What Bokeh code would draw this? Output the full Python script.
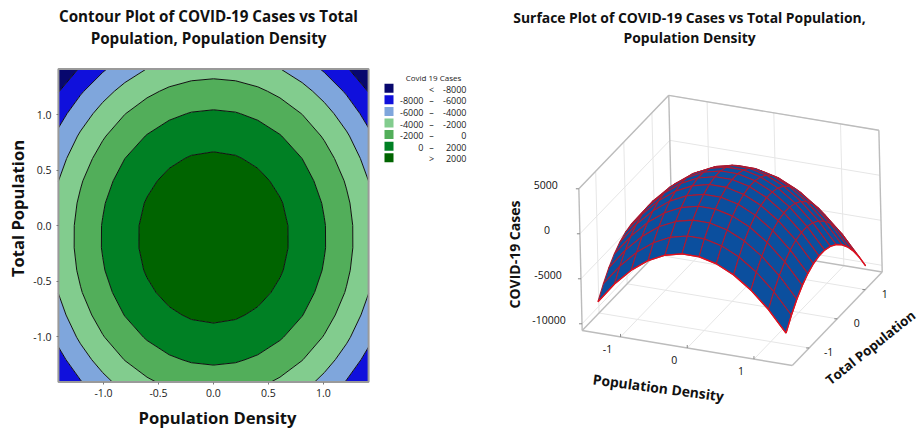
from bokeh.plotting import figure
from bokeh.layouts import row
from bokeh.models import Label, Range1d, FixedTicker
from bokeh.core.properties import value
from bokeh.embed import file_html
from bokeh.resources import INLINE

# ---- data ----
grid_x = [-1.41, -1.209, -1.007, -0.806, -0.604, -0.403, -0.201, 0.0, 0.201, 0.403, 0.604, 0.806, 1.007, 1.209, 1.41]
grid_y = [-1.41, -1.209, -1.007, -0.806, -0.604, -0.403, -0.201, 0.0, 0.201, 0.403, 0.604, 0.806, 1.007, 1.209, 1.41]
cases = [
 [-7967,-6121,-4559,-3281,-2287,-1577,-1151,-1009,-1151,-1577,-2287,-3281,-4559,-6121,-7967],
 [-6635,-4789,-3227,-1949,-955,-245,181,323,181,-245,-955,-1949,-3227,-4789,-6635],
 [-5521,-3675,-2113,-835,159,869,1295,1437,1295,869,159,-835,-2113,-3675,-5521],
 [-4636,-2790,-1228,50,1044,1754,2180,2322,2180,1754,1044,50,-1228,-2790,-4636],
 [-3970,-2124,-562,716,1710,2420,2846,2988,2846,2420,1710,716,-562,-2124,-3970],
 [-3532,-1686,-124,1154,2148,2858,3284,3426,3284,2858,2148,1154,-124,-1686,-3532],
 [-3316,-1470,92,1370,2364,3074,3500,3642,3500,3074,2364,1370,92,-1470,-3316],
 [-3324,-1478,84,1362,2356,3066,3492,3634,3492,3066,2356,1362,84,-1478,-3324],
 [-3555,-1709,-147,1131,2125,2835,3261,3403,3261,2835,2125,1131,-147,-1709,-3555],
 [-4012,-2166,-604,674,1668,2378,2804,2946,2804,2378,1668,674,-604,-2166,-4012],
 [-4690,-2844,-1282,-4,990,1700,2126,2268,2126,1700,990,-4,-1282,-2844,-4690],
 [-5596,-3750,-2188,-910,84,794,1220,1362,1220,794,84,-910,-2188,-3750,-5596],
 [-6720,-4874,-3312,-2034,-1040,-330,96,238,96,-330,-1040,-2034,-3312,-4874,-6720],
 [-8076,-6230,-4668,-3390,-2396,-1686,-1260,-1118,-1260,-1686,-2396,-3390,-4668,-6230,-8076],
 [-9647,-7801,-6239,-4961,-3967,-3257,-2831,-2689,-2831,-3257,-3967,-4961,-6239,-7801,-9647],
]
mesh_x = [-1.41, -1.154, -0.897, -0.641, -0.385, -0.128, 0.128, 0.385, 0.641, 0.897, 1.154, 1.41]
mesh_y = grid_y
mesh_cases = [
 [-7967,-5670,-3825,-2447,-1528,-1066,-1066,-1528,-2447,-3825,-5670,-7967],
 [-6635,-4338,-2493,-1115,-196,266,266,-196,-1115,-2493,-4338,-6635],
 [-5521,-3224,-1379,-1,918,1380,1380,918,-1,-1379,-3224,-5521],
 [-4636,-2339,-494,884,1803,2265,2265,1803,884,-494,-2339,-4636],
 [-3970,-1673,172,1550,2469,2931,2931,2469,1550,172,-1673,-3970],
 [-3532,-1235,610,1988,2907,3369,3369,2907,1988,610,-1235,-3532],
 [-3316,-1019,826,2204,3123,3585,3585,3123,2204,826,-1019,-3316],
 [-3324,-1027,818,2196,3115,3577,3577,3115,2196,818,-1027,-3324],
 [-3555,-1258,587,1965,2884,3346,3346,2884,1965,587,-1258,-3555],
 [-4012,-1715,130,1508,2427,2889,2889,2427,1508,130,-1715,-4012],
 [-4690,-2393,-548,830,1749,2211,2211,1749,830,-548,-2393,-4690],
 [-5596,-3299,-1454,-76,843,1305,1305,843,-76,-1454,-3299,-5596],
 [-6720,-4423,-2578,-1200,-281,181,181,-281,-1200,-2578,-4423,-6720],
 [-8076,-5779,-3934,-2556,-1637,-1175,-1175,-1637,-2556,-3934,-5779,-8076],
 [-9647,-7350,-5505,-4127,-3208,-2746,-2746,-3208,-4127,-5505,-7350,-9647],
]
levels = [-10000, -8000, -6000, -4000, -2000, 0, 2000, 4000]
level_colors = ["#08086e", "#1010dc", "#7fa6dc", "#82cc8e", "#52ae5a", "#008024", "#006400"]
legend_low = ["<", "-8000", "-6000", "-4000", "-2000", "0", ">"]
legend_high = ["-8000", "-6000", "-4000", "-2000", "0", "2000", "2000"]
ticks_contour = [-1.0, -0.5, 0.0, 0.5, 1.0]
tick_labels_contour = ["-1.0", "-0.5", "0.0", "0.5", "1.0"]
axis_limit = 1.41
ticks_x3d = [-1, 0, 1]
ticks_y3d = [-1, 0, 1]
ticks_z3d = [-10000, -5000, 0, 5000]
box_x = (-1.575, 1.575)
box_y = (-1.6, 1.6)
box_z = (-10750, 5000)

FONT = "Open Sans"
INK = "#1a1a1a"
page_h = 429

def label(p, x, y, text, size, bold=True, angle=0, units="data"):
    p.add_layout(Label(x=x, y=y, x_units=units, y_units=units, text=text,
                       text_font=FONT, text_font_size=f"{size}px", text_color="#111111",
                       text_font_style="bold" if bold else "normal", text_align="center",
                       text_baseline="middle", angle=angle, angle_units="deg"))

def panel_fig(width, xr, yr):
    f = figure(width=width, height=page_h, x_range=xr, y_range=yr, output_backend="svg",
               toolbar_location=None, min_border=0)
    f.grid.visible = False
    f.outline_line_color = None
    return f

# ---- contour panel: canvas pixels 0..372 hold the data box at 58..368 / 68..381 ----
left = panel_fig(372, Range1d((0 - 213) / 110, (372 - 213) / 110), Range1d((225 - 429) / 111, (225 - 0) / 111))
left.contour(grid_x, grid_y, cases, levels, fill_color=level_colors, line_color="#111111", line_width=1)
left.rect(x=[0], y=[0], width=2 * axis_limit, height=2 * axis_limit, fill_color=None,
          line_color="#9a9a9a", line_width=2)
left.xaxis.fixed_location = -axis_limit
left.yaxis.fixed_location = -axis_limit
for ax in (left.xaxis[0], left.yaxis[0]):
    ax.ticker = FixedTicker(ticks=ticks_contour)
    ax.major_label_overrides = dict(zip(ticks_contour, tick_labels_contour))
    ax.axis_line_color = None
    ax.major_tick_in = 0
    ax.major_tick_out = 2
    ax.major_tick_line_color = "#777777"
    ax.minor_tick_line_color = None
    ax.major_label_text_font = FONT
    ax.major_label_text_font_size = "10.5px"
    ax.major_label_text_color = INK
    ax.major_label_standoff = 5
left.yaxis[0].major_label_orientation = "horizontal"

def panel_label(x, y, text, size, angle=0):
    label(left, x, page_h - y, text, size, angle=angle, units="screen")

panel_label(208, 15, "Contour Plot of COVID-19 Cases vs Total", 15.2)
panel_label(208, 37, "Population, Population Density", 15.2)
panel_label(217, 417, "Population Density", 16.6)
panel_label(17, 208, "Total Population", 16.6, angle=90)

# ---- legend panel (pixel scale) ----
leg = panel_fig(110, Range1d(372, 482), Range1d(page_h, 0))
leg.axis.visible = False
rows = list(range(len(level_colors)))
sw_y = [87.7 + 11.6 * i for i in rows]
leg.rect(x=388.5, y=sw_y, width=9, height=9, fill_color=level_colors, line_color=None)
mid = [("–" if a not in ("<", ">") else "") for a in legend_low]
col1 = [a if a not in ("<", ">") else "" for a in legend_low]
col_sym = [a if a in ("<", ">") else m for a, m in zip(legend_low, mid)]
for x, txt, al in ((423, col1, "right"), (431, col_sym, "center"), (466, legend_high, "right")):
    leg.text(x=[x] * len(rows), y=[y + 1 for y in sw_y], text=txt, text_font=value(FONT),
             text_font_size=value("9px"), text_align=al, text_baseline="middle", text_color=INK)
leg.text(x=[433], y=[77], text=["Covid 19 Cases"], text_font=value(FONT), text_font_size=value("8px"),
         text_align="center", text_baseline="middle", text_color=INK)

# ---- surface panel (affine projection on to a pixel scale) ----
right = panel_fig(437, Range1d(482, 919), Range1d(page_h, 0))
right.axis.visible = False

def proj(x, y, z):
    dz = z - box_z[0]
    return (731.7 + 66.7 * x + 28.1 * y - 0.000212 * dz,
            300.8 + 11.1 * x - 29.2 * y - 0.009 * dz)

def seg(p, a, b, color, w):
    pa, pb = proj(*a), proj(*b)
    p.line([pa[0], pb[0]], [pa[1], pb[1]], line_color=color, line_width=w)

x0, x1 = box_x; y0, y1 = box_y; z0, z1 = box_z
GRID = "#e6e6e6"; BOX = "#bcbcbc"
for t in ticks_x3d:
    seg(right, (t, y0, z0), (t, y1, z0), GRID, 1)
    seg(right, (t, y1, z0), (t, y1, z1), GRID, 1)
for t in ticks_y3d:
    seg(right, (x0, t, z0), (x1, t, z0), GRID, 1)
    seg(right, (x0, t, z0), (x0, t, z1), GRID, 1)
for t in ticks_z3d:
    seg(right, (x0, y0, t), (x0, y1, t), GRID, 1)
    seg(right, (x0, y1, t), (x1, y1, t), GRID, 1)
for a, b in [((x0,y0,z0),(x1,y0,z0)), ((x1,y0,z0),(x1,y1,z0)), ((x1,y1,z0),(x0,y1,z0)), ((x0,y1,z0),(x0,y0,z0)),
             ((x0,y0,z0),(x0,y0,z1)), ((x0,y1,z0),(x0,y1,z1)), ((x1,y1,z0),(x1,y1,z1)),
             ((x0,y0,z1),(x0,y1,z1)), ((x0,y1,z1),(x1,y1,z1))]:
    seg(right, a, b, BOX, 1.4)

# ticks and tick labels
for t in ticks_z3d:
    sx, sy = proj(x0, y0, t)
    right.line([sx - 3, sx], [sy, sy], line_color="#888888", line_width=1)
    label(right, sx - 33, sy - 4, str(t), 10.5, bold=False)
for t in ticks_x3d:
    sx, sy = proj(t, y0, z0)
    right.line([sx, sx], [sy, sy - 3], line_color="#888888", line_width=1)
    label(right, sx - 13, sy + 12, str(t), 10.5, bold=False)
for t in ticks_y3d:
    sx, sy = proj(x1, t, z0)
    right.line([sx - 3, sx], [sy, sy], line_color="#888888", line_width=1)
    label(right, sx + 19.5, sy + 4.5, str(t), 10.5, bold=False)

# surface quads, far to near
quads = []
for j in range(len(mesh_y) - 1):
    for i in range(len(mesh_x) - 1):
        c = [(i, j), (i + 1, j), (i + 1, j + 1), (i, j + 1)]
        pts = [proj(mesh_x[a], mesh_y[b], mesh_cases[b][a]) for a, b in c]
        depth = (mesh_y[j] - mesh_x[i])
        quads.append((depth, [q[0] for q in pts], [q[1] for q in pts]))
quads.sort(key=lambda q: -q[0])
right.patches([q[1] for q in quads], [q[2] for q in quads], fill_color="#0b4f9e",
              line_color="#ad1a32", line_width=1.1)
front = [proj(x, mesh_y[0], mesh_cases[0][i]) for i, x in enumerate(mesh_x)]
side = [proj(mesh_x[-1], y, mesh_cases[j][-1]) for j, y in enumerate(mesh_y)]
for edge in (front, side):
    right.line([q[0] for q in edge], [q[1] for q in edge], line_color="#e2101e", line_width=1.4)

label(right, 689, 17, "Surface Plot of COVID-19 Cases vs Total Population,", 13.9)
label(right, 689, 37, "Population Density", 13.9)
label(right, 514, 254, "COVID-19 Cases", 14, angle=90)
label(right, 658, 387, "Population Density", 13.9, angle=-7.5)
label(right, 870, 347, "Total Population", 13.3, angle=38.5)

page = row(left, leg, right)
open("out.html", "w").write(file_html(page, INLINE))
